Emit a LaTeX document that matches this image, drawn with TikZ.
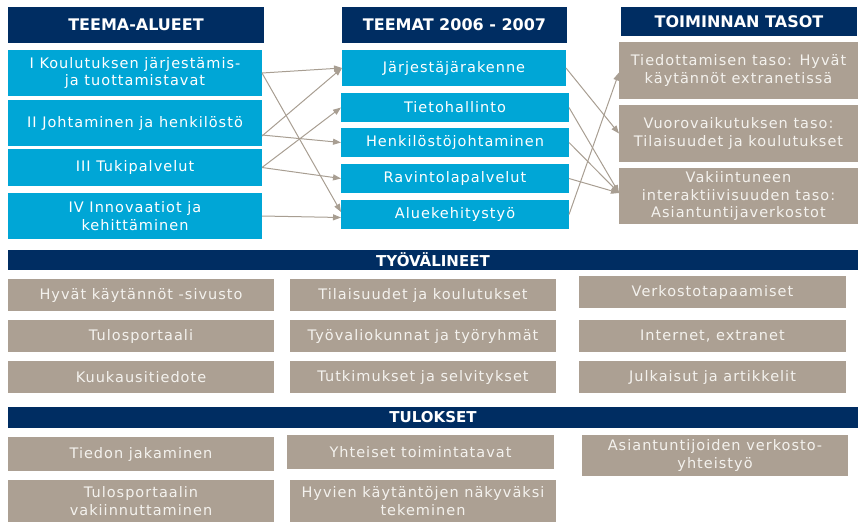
\documentclass[tikz,border=0pt]{standalone}
\usepackage{fontspec}
\setmainfont{DejaVu Sans}
\newfontfamily\bodyfont{DejaVu Sans}[LetterSpace=7]
\usetikzlibrary{arrows.meta}
\definecolor{navy}{RGB}{0,45,98}
\definecolor{cyanbox}{RGB}{0,166,214}
\definecolor{tanbox}{RGB}{172,160,147}
\definecolor{tantext}{RGB}{244,242,238}
\definecolor{arrowc}{RGB}{168,158,146}
\begin{document}
\begin{tikzpicture}[x=1pt,y=-1pt,
 box/.style={anchor=north west, inner sep=0pt, outer sep=0pt, align=center,
   font=\bodyfont\fontsize{14.5}{17.5}\selectfont},
 hdr/.style={box, fill=navy, text=white, font=\bfseries\fontsize{16}{18}\selectfont},
 bandhdr/.style={hdr, font=\bfseries\fontsize{15}{17}\selectfont},
 bluebox/.style={box, fill=cyanbox, text=white},
 tanb/.style={box, fill=tanbox, text=tantext},
 conn/.style={draw=arrowc, line width=1pt, -{Triangle[length=8pt,width=6pt]}}]
\useasboundingbox (0,0) rectangle (858,522);
% headers
\node[hdr, minimum width=256pt, minimum height=36pt] (h1) at (8,7) {TEEMA-ALUEET};
\node[hdr, minimum width=225pt, minimum height=36pt] (h2) at (342,7) {TEEMAT 2006 - 2007};
\node[hdr, minimum width=236pt, minimum height=29pt] (h3) at (621,7) {TOIMINNAN TASOT};
% left column
\node[bluebox, minimum width=254pt, minimum height=46pt] (l1) at (8,50) {I Koulutuksen järjestämis-\\ja tuottamistavat};
\node[bluebox, minimum width=254pt, minimum height=46pt] (l2) at (8,100) {II Johtaminen ja henkilöstö};
\node[bluebox, minimum width=254pt, minimum height=37pt] (l3) at (8,149) {III Tukipalvelut};
\node[bluebox, minimum width=254pt, minimum height=46pt] (l4) at (8,193) {IV Innovaatiot ja\\kehittäminen};
% middle column
\node[bluebox, minimum width=224pt, minimum height=36pt] (m1) at (342,50) {Järjestäjärakenne};
\node[bluebox, minimum width=228pt, minimum height=29pt] (m2) at (341,93) {Tietohallinto};
\node[bluebox, minimum width=228pt, minimum height=29pt] (m3) at (341,128) {Henkilöstöjohtaminen};
\node[bluebox, minimum width=228pt, minimum height=29pt] (m4) at (341,164) {Ravintolapalvelut};
\node[bluebox, minimum width=228pt, minimum height=29pt] (m5) at (341,200) {Aluekehitystyö};
% right column
\node[tanb, minimum width=239pt, minimum height=57pt] (r1) at (619,42) {Tiedottamisen taso: Hyvät\\käytännöt extranetissä};
\node[tanb, minimum width=239pt, minimum height=57pt] (r2) at (619,105) {Vuorovaikutuksen taso:\\Tilaisuudet ja koulutukset};
\node[tanb, minimum width=239pt, minimum height=56pt] (r3) at (619,168) {Vakiintuneen\\interaktiivisuuden taso:\\Asiantuntijaverkostot};
% connectors
\draw[conn] (l1.east) -- (m1.west);
\draw[conn] (l1.east) -- ([yshift=2.5pt]m5.west);
\draw[conn] ([yshift=-13pt]l2.east) -- (m1.west);
\draw[conn] ([yshift=-12pt]l2.east) -- (m3.west);
\draw[conn] (l3.east) -- (m2.west);
\draw[conn] (l3.east) -- (m4.west);
\draw[conn] (l4.east) -- ([yshift=-3pt]m5.west);
\draw[conn] (m1.east) -- (r2.west);
\draw[conn] (m2.east) -- ([yshift=3pt]r3.west);
\draw[conn] (m3.east) -- ([yshift=3pt]r3.west);
\draw[conn] (m4.east) -- ([yshift=3pt]r3.west);
\draw[conn] (m5.east) -- ([yshift=-2pt]r1.west);
% tools
\node[bandhdr, minimum width=850pt, minimum height=20pt] (tv) at (8,250) {TYÖVÄLINEET};
\node[tanb, minimum width=266pt, minimum height=32pt] (t11) at (8,279) {Hyvät käytännöt -sivusto};
\node[tanb, minimum width=266pt, minimum height=32pt] (t12) at (290,279) {Tilaisuudet ja koulutukset};
\node[tanb, minimum width=267pt, minimum height=32pt] (t13) at (579,276) {Verkostotapaamiset};
\node[tanb, minimum width=266pt, minimum height=32pt] (t21) at (8,320) {Tulosportaali};
\node[tanb, minimum width=266pt, minimum height=32pt] (t22) at (290,320) {Työvaliokunnat ja työryhmät};
\node[tanb, minimum width=267pt, minimum height=32pt] (t23) at (579,320) {Internet, extranet};
\node[tanb, minimum width=266pt, minimum height=32pt] (t31) at (8,361) {Kuukausitiedote};
\node[tanb, minimum width=266pt, minimum height=32pt] (t32) at (290,361) {Tutkimukset ja selvitykset};
\node[tanb, minimum width=267pt, minimum height=32pt] (t33) at (579,361) {Julkaisut ja artikkelit};
% results
\node[bandhdr, minimum width=850pt, minimum height=21pt] (tu) at (8,407) {TULOKSET};
\node[tanb, minimum width=266pt, minimum height=34pt] (u1) at (8,437) {Tiedon jakaminen};
\node[tanb, minimum width=267pt, minimum height=34pt] (u2) at (287,435) {Yhteiset toimintatavat};
\node[tanb, minimum width=266pt, minimum height=41pt] (u3) at (582,435) {Asiantuntijoiden verkosto-\\yhteistyö};
\node[tanb, minimum width=266pt, minimum height=42pt] (u4) at (8,480) {Tulosportaalin\\vakiinnuttaminen};
\node[tanb, minimum width=266pt, minimum height=42pt] (u5) at (290,480) {Hyvien käytäntöjen näkyväksi\\tekeminen};
\end{tikzpicture}
\end{document}
